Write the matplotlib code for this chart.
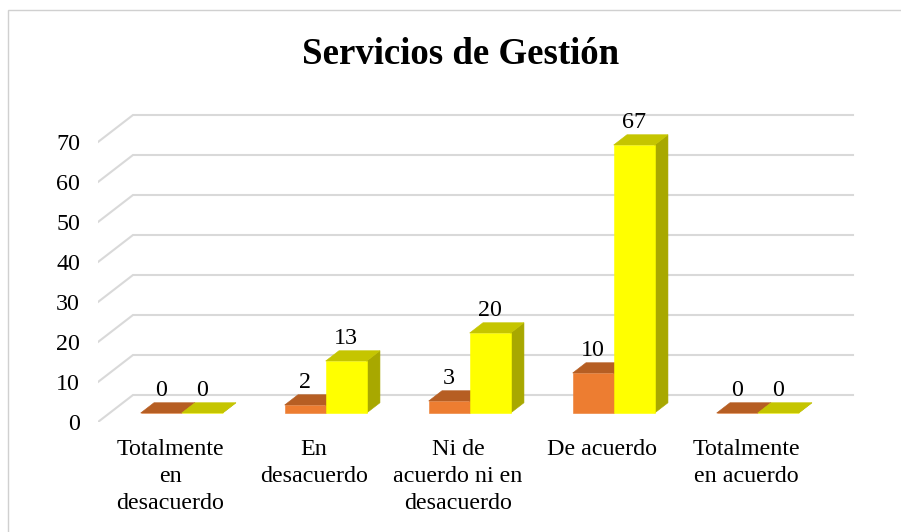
import matplotlib
matplotlib.use("Agg")
import matplotlib.pyplot as plt
from matplotlib.patches import Polygon, Rectangle

plt.rcParams['font.family'] = ['Liberation Serif', 'DejaVu Serif']

# ---- data ----
categories = ["Totalmente\nen\ndesacuerdo", "En\ndesacuerdo",
              "Ni de\nacuerdo ni en\ndesacuerdo", "De acuerdo",
              "Totalmente\nen acuerdo"]
serie_naranja = [0, 2, 3, 10, 0]
serie_amarilla = [0, 13, 20, 67, 0]
yticks = [0, 10, 20, 30, 40, 50, 60, 70]
title = "Servicios de Gestión"

# ---- style / geometry ----
W, H = 901, 532
DX = 35 / 144.0      # depth offset in category units
DY = 6.75            # depth offset in value units
FRONT = 1 / 3.0      # bar front depth fraction
BACK = FRONT + 0.38  # bar back depth fraction
BW = 41 / 144.0      # bar width
c_or = dict(front="#ED7D31", top="#B65E23", side="#9C5020")
c_ye = dict(front="#FFFF00", top="#C5C500", side="#A8A800")
grid_c = "#D9D9D9"
fs = 17.3

fig = plt.figure(figsize=(W / 100, H / 100), dpi=100)
ax = fig.add_axes([98 / W, 110 / H, (860 - 98) / W, (422 - 100) / H])
ax.set_xlim(-0.5, -0.5 + (860 - 98) / 144.0)
ax.set_ylim(0, (422 - 100) / 4.0)
for s in ax.spines.values():
    s.set_visible(False)


def P(x, y, d):
    return (x + d * DX, y + d * DY)


# gridlines (front diagonal + back wall)
for v in yticks:
    pts = [P(-0.5, v, 0), P(-0.5, v, 1), P(4.5, v, 1)]
    ax.plot([p[0] for p in pts], [p[1] for p in pts], color=grid_c,
            lw=1.5, zorder=1, solid_joinstyle='miter')


def bar3d(x0, x1, v, col):
    front = [P(x0, 0, FRONT), P(x1, 0, FRONT), P(x1, v, FRONT), P(x0, v, FRONT)]
    top = [P(x0, v, FRONT), P(x1, v, FRONT), P(x1, v, BACK), P(x0, v, BACK)]
    side = [P(x1, 0, FRONT), P(x1, 0, BACK), P(x1, v, BACK), P(x1, v, FRONT)]
    for poly, key in ((side, "side"), (front, "front"), (top, "top")):
        ax.add_patch(Polygon(poly, closed=True, facecolor=col[key],
                             edgecolor=col[key], lw=0.4, zorder=3))


for i, (vo, vy) in enumerate(zip(serie_naranja, serie_amarilla)):
    bar3d(i - BW, i, vo, c_or)
    bar3d(i, i + BW, vy, c_ye)
    for xc, v in ((i - BW / 2, vo), (i + BW / 2, vy)):
        ax.annotate(str(v), xy=P(xc, v, FRONT), xytext=(0, 16),
                    textcoords='offset points', ha='center', va='center',
                    fontsize=fs, color='black', zorder=5)

ax.set_yticks(yticks)
ax.set_yticklabels([str(t) for t in yticks], fontsize=fs)
ax.set_xticks(range(len(categories)))
ax.set_xticklabels(categories, fontsize=fs, linespacing=1.36)
ax.tick_params(axis='y', length=0, pad=13)
ax.tick_params(axis='x', length=0, pad=12.5)

fig.text(461 / W, 1 - 55 / H, title, ha='center', va='center',
         fontsize=26.6, fontweight='bold')

fig.add_artist(Rectangle((8 / W, -0.1), 1.2, (H - 10) / H + 0.1,
                         transform=fig.transFigure, fill=False,
                         edgecolor="#D0D0D0", lw=1))

fig.savefig("out.png", dpi=100)
